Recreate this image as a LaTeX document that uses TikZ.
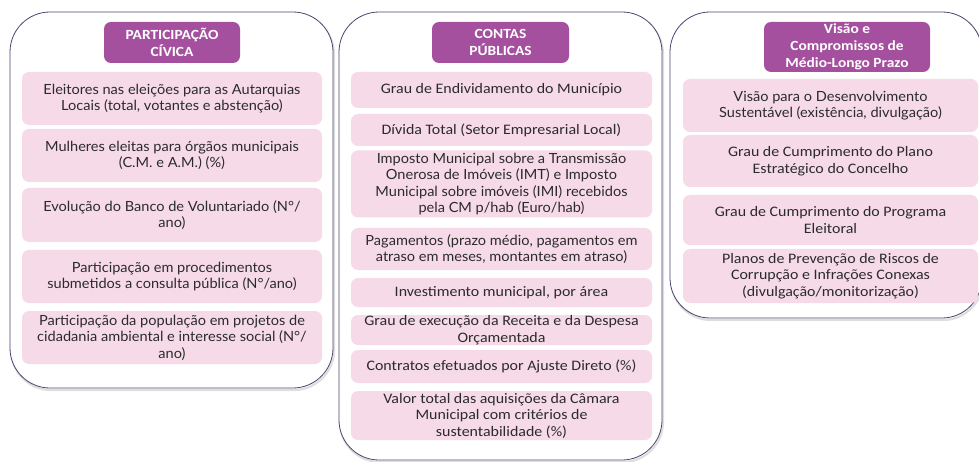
\documentclass[tikz,border=0pt]{standalone}
\usepackage{fontspec}
\setmainfont[FakeStretch=1.1]{Carlito}
\newfontfamily\gillfont[FakeStretch=1.04]{Lato}
\newfontfamily\hdrfont[FakeStretch=1.1]{Carlito}
\definecolor{panelc}{HTML}{4E4470}
\definecolor{hdrc}{HTML}{A5509F}
\definecolor{pinkc}{HTML}{F6DAE8}
\definecolor{txtc}{HTML}{2B2B2B}
\tikzset{
  panel/.style={draw=panelc, line width=0.8pt, fill=white, rounded corners=40pt, inner sep=0pt},
  panelshadow/.style={draw=black!13, line width=2.2pt, rounded corners=40pt, inner sep=0pt},
  hdr/.style={fill=hdrc, rounded corners=7pt, text=white, align=center, inner sep=0pt,
    font=\hdrfont\bfseries\fontsize{14}{17}\selectfont},
  pbox/.style={fill=pinkc, rounded corners=7pt, text=txtc, align=center, inner sep=0pt,
    font=\fontsize{14.5}{16.5}\selectfont},
  gbox/.style={pbox, font=\gillfont\fontsize{14}{16.5}\selectfont},
}
\begin{document}
\begin{tikzpicture}[x=1pt,y=-1pt]
\useasboundingbox (0,0) rectangle (979,462);
\clip (0,0) rectangle (979,462);
% shadows
\node[panelshadow, minimum width=323pt, minimum height=376pt] (s1) at (172.5,202) {};
\node[panelshadow, minimum width=323pt, minimum height=448pt] (s2) at (501.5,238) {};
\node[panelshadow, minimum width=312pt, minimum height=306pt] (s3) at (827,167) {};
% panels
\node[panel, minimum width=323pt, minimum height=376pt] (p1) at (171.5,200) {};
\node[panel, minimum width=323pt, minimum height=448pt] (p2) at (500.5,236) {};
\node[panel, minimum width=312pt, minimum height=306pt] (p3) at (826,165) {};
% headers
\node[hdr, minimum width=136pt, minimum height=41pt] (h1) at (172,42.5) {PARTICIPAÇÃO\\CÍVICA};
\node[hdr, minimum width=137pt, minimum height=41pt] (h2) at (500.5,42.5) {CONTAS\\PÚBLICAS};
\node[hdr, minimum width=166pt, minimum height=50pt] (h3) at (847,47) {Visão e\\Compromissos de\\Médio-Longo Prazo};
% panel 1
\node[gbox, minimum width=300pt, minimum height=53pt] (a1) at (172,98.5) {Eleitores nas eleições para as Autarquias\\Locais (total, votantes e abstenção)};
\node[gbox, minimum width=300pt, minimum height=53pt] (a2) at (172,155.5) {Mulheres eleitas para órgãos municipais\\(C.M. e A.M.) (\%)};
\node[gbox, minimum width=300pt, minimum height=54pt] (a3) at (172,215) {Evolução do Banco de Voluntariado (N°/\\ano)};
\node[gbox, minimum width=300pt, minimum height=53pt] (a4) at (172,276.5) {Participação em procedimentos\\submetidos a consulta pública (N°/ano)};
\node[gbox, minimum width=300pt, minimum height=53pt] (a5) at (172,337.5) {Participação da população em projetos de\\cidadania ambiental e interesse social (N°/\\ano)};
% panel 2
\node[pbox, minimum width=301pt, minimum height=36pt] (b1) at (501.5,90) {Grau de Endividamento do Município};
\node[pbox, minimum width=301pt, minimum height=32pt] (b2) at (501.5,130) {Dívida Total (Setor Empresarial Local)};
\node[gbox, minimum width=301pt, minimum height=67pt] (b3) at (501.5,184) {Imposto Municipal sobre a Transmissão\\Onerosa de Imóveis (IMT) e Imposto\\Municipal sobre imóveis (IMI) recebidos\\pela CM p/hab (Euro/hab)};
\node[gbox, minimum width=301pt, minimum height=42pt] (b4) at (501.5,249) {Pagamentos (prazo médio, pagamentos em\\atraso em meses, montantes em atraso)};
\node[pbox, minimum width=301pt, minimum height=29pt] (b5) at (501.5,292.5) {Investimento municipal, por área};
\node[pbox, minimum width=301pt, minimum height=30pt] (b6) at (501.5,330) {Grau de execução da Receita e da Despesa\\Orçamentada};
\node[pbox, minimum width=301pt, minimum height=33pt] (b7) at (501.5,366.5) {Contratos efetuados por Ajuste Direto (\%)};
\node[pbox, minimum width=301pt, minimum height=49pt] (b8) at (501.5,415.5) {Valor total das aquisições da Câmara\\Municipal com critérios de\\sustentabilidade (\%)};
% panel 3
\node[gbox, minimum width=295pt, minimum height=53pt] (c1) at (830.5,105.5) {Visão para o Desenvolvimento\\Sustentável (existência, divulgação)};
\node[pbox, minimum width=295pt, minimum height=52pt] (c2) at (830.5,161) {Grau de Cumprimento do Plano\\Estratégico do Concelho};
\node[pbox, minimum width=295pt, minimum height=50pt] (c3) at (830.5,220) {Grau de Cumprimento do Programa\\Eleitoral};
\node[pbox, minimum width=295pt, minimum height=54pt] (c4) at (830.5,276) {Planos de Prevenção de Riscos de\\Corrupção e Infrações Conexas\\(divulgação/monitorização)};
\end{tikzpicture}
\end{document}
